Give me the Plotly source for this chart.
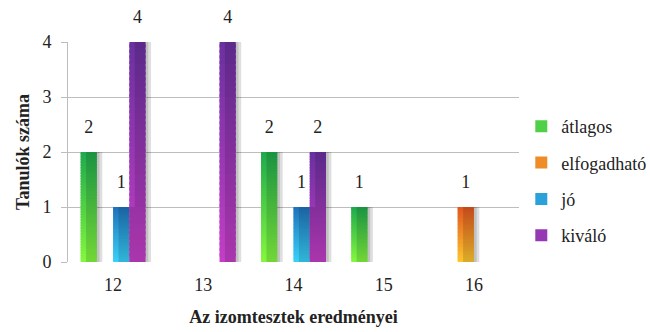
import plotly.graph_objects as go

# Results of the muscle tests: number of pupils per score and rating
scores = ["12", "13", "14", "15", "16"]
series_names = ["átlagos", "elfogadható", "jó", "kiváló"]
atlagos = [2, None, 2, 1, None]
elfogadhato = [None, None, None, None, 1]
jo = [1, None, 1, None, None]
kivalo = [4, 4, 2, None, None]
series_values = [atlagos, elfogadhato, jo, kivalo]

# top / bottom colours of each series' vertical gradient
top_colors = ["#1fa94c", "#e0561f", "#1f72bb", "#6a30a0"]
bottom_colors = ["#84f83f", "#fdc62f", "#38d2f9", "#c43ec6"]

N_BANDS = 40
SERIF = "Liberation Serif, Times New Roman, Times, serif"
GAP = 0.28


def hex_to_rgb(h):
    h = h.lstrip("#")
    return tuple(int(h[i:i + 2], 16) for i in (0, 2, 4))


def mix(c1, c2, t):
    a, b = hex_to_rgb(c1), hex_to_rgb(c2)
    return "rgb(%d,%d,%d)" % tuple(round(a[i] + (b[i] - a[i]) * t) for i in range(3))


fig = go.Figure()

# soft drop shadows: two translucent layers on base x axes shifted to the right
for axis in ("x", "x3"):
    for name, vals in zip(series_names, series_values):
        fig.add_trace(go.Bar(
            x=scores, y=vals, name=name, offsetgroup=name,
            marker=dict(color="rgba(0,0,0,0.13)", line=dict(width=0)),
            showlegend=False, hoverinfo="skip", xaxis=axis, yaxis="y",
        ))

# gradient bars, built from stacked bands of each value on the overlaid axis
for idx, (name, vals) in enumerate(zip(series_names, series_values)):
    for k in range(N_BANDS):
        frac_lo = k / N_BANDS
        t = 1 - (k + 0.5) / N_BANDS  # 0 at top, 1 at bottom
        color = mix(top_colors[idx], bottom_colors[idx], t)
        bases = [None if v is None else v * frac_lo for v in vals]
        scale = 1.0 if k == N_BANDS - 1 else 1.6
        heights = [None if v is None else v * scale / N_BANDS for v in vals]
        fig.add_trace(go.Bar(
            x=scores, y=heights, base=bases, name=name, offsetgroup=name,
            legendgroup=name, legendrank=idx,
            showlegend=(k == N_BANDS // 2),
            marker=dict(color=color, line=dict(width=0)),
            hoverinfo="skip",
            xaxis="x2", yaxis="y",
        ))

# value labels above each bar (grouped the same way as the bars)
for name, vals in zip(series_names, series_values):
    fig.add_trace(go.Scatter(
        x=scores, y=vals, mode="markers+text", offsetgroup=name,
        text=[("" if v is None else str(v)) for v in vals],
        textposition="top center",
        textfont=dict(family=SERIF, size=18, color="#222"),
        marker=dict(size=21, color="rgba(0,0,0,0)"),
        showlegend=False, hoverinfo="skip", cliponaxis=False,
        xaxis="x2", yaxis="y",
    ))

fig.update_layout(
    width=650, height=332,
    margin=dict(l=68, r=131, t=42, b=70, autoexpand=False),
    paper_bgcolor="white", plot_bgcolor="white",
    barmode="group", bargap=GAP, bargroupgap=0,
    scattermode="group", scattergap=GAP,
    font=dict(family=SERIF, size=17, color="#222"),
    xaxis=dict(
        type="category", range=[-0.5 - 0.03, 4.5 - 0.03],
        showticklabels=False, showgrid=False, zeroline=False, ticks="",
    ),
    xaxis3=dict(
        type="category", overlaying="x", range=[-0.5 - 0.06, 4.5 - 0.06],
        showticklabels=False, showgrid=False, zeroline=False, ticks="",
    ),
    xaxis2=dict(
        type="category", overlaying="x", side="bottom", range=[-0.5, 4.5],
        showgrid=False, zeroline=False, ticks="", ticklabelstandoff=10,
        automargin=False,
        tickfont=dict(family=SERIF, size=18, color="#222"),
        title=dict(text="<b>Az izomtesztek eredményei</b>", standoff=16,
                   font=dict(family=SERIF, size=18, color="#222")),
    ),
    yaxis=dict(
        range=[0, 4], dtick=1, showgrid=True, gridcolor="#bdbdbd", gridwidth=1,
        zeroline=False, showline=True, linecolor="#bdbdbd", linewidth=1,
        ticks="outside", ticklen=6, tickcolor="#bdbdbd", ticklabelstandoff=6,
        tickfont=dict(family=SERIF, size=18, color="#222"),
        title=dict(text="<b>Tanulók száma</b>", standoff=8,
                   font=dict(family=SERIF, size=18, color="#222")),
    ),
    legend=dict(
        xref="container", yref="container",
        x=0.802, y=0.455, xanchor="left", yanchor="middle",
        font=dict(family=SERIF, size=18, color="#222"),
        tracegroupgap=10, itemwidth=30, traceorder="grouped",
        bgcolor="rgba(0,0,0,0)",
    ),
)

fig.write_html("out.html")
